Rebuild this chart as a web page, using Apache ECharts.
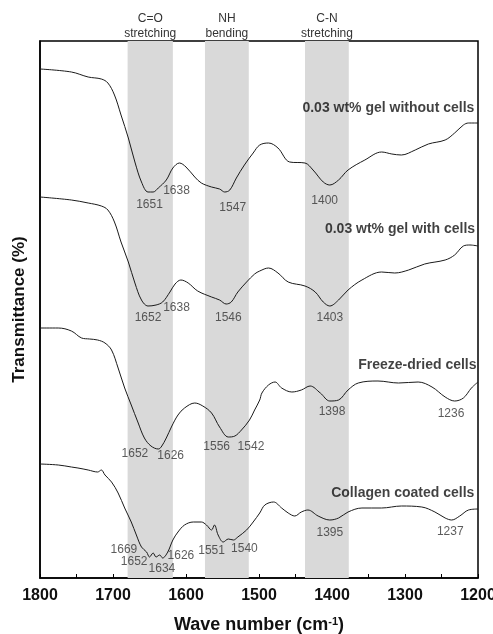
<!DOCTYPE html>
<html>
<head>
<meta charset="utf-8">
<script src="https://cdn.jsdelivr.net/npm/echarts@6/dist/echarts.min.js"></script>
<style>
  html, body { margin: 0; padding: 0; background: #fff; }
  #chart { width: 493px; height: 634px; }
</style>
</head>
<body>
<div id="chart"></div>
<script>
// Wavenumber (cm-1) and transmittance (arbitrary offset units) for each spectrum
const gelNoCells = [
  [1800,509],[1757,506],[1734,501],[1716,499],[1707,495],[1698,483],[1689,463],[1679,440],
  [1670,416],[1661,396],[1652,386],[1645,386],[1638,390],[1627,398],[1618,410],[1609,415],
  [1600,411],[1588,401],[1579,395],[1565,391],[1554,389],[1547,386],[1540,388],[1531,400],
  [1520,413],[1508,425],[1499,433],[1487,435],[1474,430],[1458,416],[1437,415],[1426,408],
  [1412,396],[1403,393],[1391,398],[1378,408],[1355,418],[1332,426],[1318,424],[1305,423],
  [1286,428],[1268,434],[1245,438],[1232,445],[1220,453],[1213,455],[1200,455]
];
const gelWithCells = [
  [1800,381],[1757,378],[1734,375],[1716,372],[1707,368],[1698,356],[1689,336],[1679,316],
  [1670,295],[1661,278],[1652,272],[1641,273],[1632,276],[1622,286],[1615,294],[1607,298],
  [1597,295],[1584,287],[1565,281],[1554,278],[1545,274],[1538,276],[1529,286],[1517,296],
  [1506,304],[1499,307],[1487,310],[1474,305],[1460,296],[1437,292],[1423,286],[1412,276],
  [1403,272],[1391,278],[1378,288],[1359,298],[1332,306],[1314,305],[1295,308],[1273,314],
  [1245,318],[1232,323],[1220,332],[1211,333],[1200,332]
];
const freezeDried = [
  [1800,250],[1775,250],[1757,247],[1743,240],[1732,239],[1721,238],[1711,235],[1702,228],
  [1693,210],[1684,190],[1675,173],[1666,156],[1657,140],[1648,132],[1638,129],[1634,131],
  [1627,140],[1620,151],[1611,163],[1602,170],[1588,175],[1577,172],[1565,165],[1554,151],
  [1542,141],[1533,142],[1524,148],[1513,158],[1506,168],[1499,178],[1496,185],[1487,193],
  [1478,196],[1469,190],[1455,186],[1442,188],[1430,192],[1416,185],[1403,177],[1391,178],
  [1378,188],[1364,195],[1337,197],[1309,195],[1282,196],[1263,191],[1245,181],[1232,177],
  [1220,180],[1209,190],[1200,196]
];
const collagenCoated = [
  [1800,114],[1775,113],[1757,111],[1748,110],[1734,108],[1721,106],[1716,108],[1711,103],
  [1702,96],[1693,85],[1684,70],[1675,56],[1668,43],[1661,31],[1654,26],[1650,21],[1645,25],
  [1641,21],[1636,23],[1632,20],[1625,26],[1618,38],[1611,46],[1602,53],[1590,56],[1579,56],
  [1572,53],[1565,48],[1561,53],[1556,43],[1549,36],[1542,39],[1535,38],[1529,41],[1517,48],
  [1508,56],[1499,65],[1492,73],[1480,76],[1469,70],[1460,65],[1451,62],[1442,66],[1433,68],
  [1419,62],[1403,58],[1391,60],[1378,66],[1359,70],[1332,70],[1305,72],[1277,71],[1259,66],
  [1245,60],[1236,58],[1225,62],[1213,68],[1200,69]
];

// Shaded vibration bands: [from, to, label]
const bands = [
  [1680, 1618, 'C=O\nstretching'],
  [1574, 1514, 'NH\nbending'],
  [1437, 1377, 'C-N\nstretching']
];

// Series names and their label anchors [name, wavenumber, level]
const seriesNames = [
  ['0.03 wt% gel without cells', 1205, 470],
  ['0.03 wt% gel with cells', 1204, 349],
  ['Freeze-dried cells', 1202, 213],
  ['Collagen coated cells', 1205, 85]
];

// Peak annotations [text, wavenumber, level]
const peakLabels = [
  ['1651',1650,373],['1638',1613,387],['1547',1536,370],['1400',1410,377],
  ['1652',1652,260],['1638',1613,270],['1546',1542,260],['1403',1403,260],
  ['1652',1670,124],['1626',1621,122],['1556',1558,131],['1542',1511,131],['1398',1400,166],['1236',1237,164],
  ['1669',1685,28],['1652',1671,16],['1634',1633,9],['1626',1607,22],['1551',1565,27],['1540',1520,29],
  ['1395',1403,45],['1237',1238,46]
];

const xTicks = { min: 1200, max: 1800, interval: 100 };

const FONT = 'Arial, "Liberation Sans", sans-serif';
const chart = echarts.init(document.getElementById('chart'));

function lineSeries(name, data) {
  return {
    name: name, type: 'line', data: data, symbol: 'none', smooth: 0.35,
    lineStyle: { color: '#1a1a1a', width: 1 }, z: 3, silent: true
  };
}

const series = [
  {
    type: 'line', data: [], silent: true,
    markArea: {
      silent: true,
      itemStyle: { color: '#d9d9d9' },
      label: {
        show: true, position: 'top', distance: 0,
        fontFamily: FONT, fontSize: 12, color: '#333', lineHeight: 15
      },
      data: bands.map(b => [{ xAxis: b[0], name: b[2] }, { xAxis: b[1] }])
    },
    z: 1
  },
  lineSeries('a', gelNoCells),
  lineSeries('b', gelWithCells),
  lineSeries('c', freezeDried),
  lineSeries('d', collagenCoated),
  {
    type: 'scatter', symbolSize: 0, silent: true, z: 5,
    data: peakLabels.map(p => ({ value: [p[1], p[2]], name: p[0] })),
    label: {
      show: true, position: 'inside', formatter: p => p.name,
      fontFamily: FONT, fontSize: 12, color: '#333'
    }
  },
  {
    type: 'scatter', symbolSize: 0, silent: true, z: 5,
    data: seriesNames.map(p => ({ value: [p[1], p[2]], name: p[0] })),
    label: {
      show: true, position: 'left', distance: 0, formatter: p => p.name,
      fontFamily: FONT, fontSize: 14, fontWeight: 'bold', color: '#111'
    }
  }
];

chart.setOption({
  animation: false,
  grid: {
    left: 40, right: 15, top: 41, bottom: 56,
    containLabel: false, outerBoundsMode: 'none',
    show: true, borderColor: '#000', borderWidth: 1.5, backgroundColor: 'transparent'
  },
  xAxis: {
    type: 'value', inverse: true,
    min: xTicks.min, max: xTicks.max, interval: xTicks.interval,
    axisLine: { show: true, onZero: false, lineStyle: { color: '#000', width: 1.5 } },
    axisTick: { show: true, inside: true, length: 4, lineStyle: { color: '#000' } },
    minorTick: { show: true, splitNumber: 2, length: 4, lineStyle: { color: '#000' } },
    splitLine: { show: false },
    axisLabel: {
      fontFamily: FONT, fontSize: 16, fontWeight: 'bold', color: '#111', margin: 10,
      formatter: v => String(v)
    },
    name: 'Wave number (cm{sup|-1})',
    nameLocation: 'middle', nameGap: 38,
    nameTextStyle: {
      fontFamily: FONT, fontSize: 18, fontWeight: 'bold', color: '#111',
      rich: { sup: { fontFamily: FONT, fontSize: 11, fontWeight: 'bold', color: '#111', verticalAlign: 'top', padding: [0, 0, 8, 0] } }
    }
  },
  yAxis: {
    type: 'value', min: 0, max: 537,
    axisLine: { show: true, lineStyle: { color: '#000', width: 1.5 } },
    axisTick: { show: false },
    axisLabel: { show: false },
    splitLine: { show: false },
    name: 'Transmittance (%)',
    nameLocation: 'middle', nameGap: 12, nameRotate: 90,
    nameTextStyle: { fontFamily: FONT, fontSize: 17, fontWeight: 'bold', color: '#111' }
  },
  series: series
});
</script>
</body>
</html>
